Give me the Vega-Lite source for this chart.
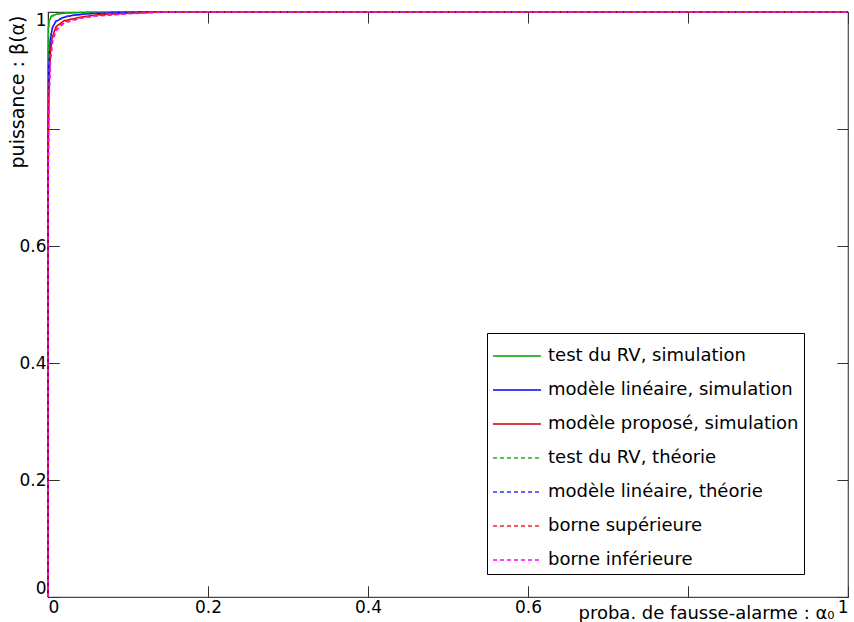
{
  "$schema": "https://vega.github.io/schema/vega-lite/v6.json",
  "width": 800,
  "height": 585,
  "autosize": "none",
  "padding": {"left": 48, "top": 12, "right": 6, "bottom": 25},
  "background": "white",
  "config": {
    "view": {"stroke": "#4a4a4a", "strokeWidth": 1.2},
    "font": "DejaVu Sans",
    "axis": {"domain": false, "ticks": true, "tickSize": -11, "tickColor": "#333333", "grid": true, "gridColor": "#333333", "gridOpacity": 1, "gridWidth": 1, "labelFontSize": 17, "labelColor": "black", "labelFont": "DejaVu Sans", "titleFont": "DejaVu Sans", "titleFontWeight": "normal", "titleColor": "black"}
  },
  "data": {"values": [
    {"a": 0, "b": 0, "s": "test du RV, simulation"},
    {"a": 0, "b": 0.9, "s": "test du RV, simulation"},
    {"a": 0.0005, "b": 0.97, "s": "test du RV, simulation"},
    {"a": 0.0015, "b": 0.985, "s": "test du RV, simulation"},
    {"a": 0.004, "b": 0.992, "s": "test du RV, simulation"},
    {"a": 0.01, "b": 0.996, "s": "test du RV, simulation"},
    {"a": 0.02, "b": 0.998, "s": "test du RV, simulation"},
    {"a": 0.05, "b": 0.9995, "s": "test du RV, simulation"},
    {"a": 0.1, "b": 1, "s": "test du RV, simulation"},
    {"a": 1, "b": 1, "s": "test du RV, simulation"},

    {"a": 0, "b": 0, "s": "modèle linéaire, simulation"},
    {"a": 0, "b": 0.75, "s": "modèle linéaire, simulation"},
    {"a": 0.001, "b": 0.9, "s": "modèle linéaire, simulation"},
    {"a": 0.003, "b": 0.955, "s": "modèle linéaire, simulation"},
    {"a": 0.006, "b": 0.975, "s": "modèle linéaire, simulation"},
    {"a": 0.01, "b": 0.984, "s": "modèle linéaire, simulation"},
    {"a": 0.02, "b": 0.991, "s": "modèle linéaire, simulation"},
    {"a": 0.03, "b": 0.994, "s": "modèle linéaire, simulation"},
    {"a": 0.05, "b": 0.997, "s": "modèle linéaire, simulation"},
    {"a": 0.08, "b": 0.999, "s": "modèle linéaire, simulation"},
    {"a": 0.12, "b": 1, "s": "modèle linéaire, simulation"},
    {"a": 1, "b": 1, "s": "modèle linéaire, simulation"},

    {"a": 0, "b": 0, "s": "modèle proposé, simulation"},
    {"a": 0, "b": 0.7, "s": "modèle proposé, simulation"},
    {"a": 0.001, "b": 0.86, "s": "modèle proposé, simulation"},
    {"a": 0.003, "b": 0.93, "s": "modèle proposé, simulation"},
    {"a": 0.005, "b": 0.955, "s": "modèle proposé, simulation"},
    {"a": 0.01, "b": 0.975, "s": "modèle proposé, simulation"},
    {"a": 0.02, "b": 0.985, "s": "modèle proposé, simulation"},
    {"a": 0.04, "b": 0.991, "s": "modèle proposé, simulation"},
    {"a": 0.06, "b": 0.995, "s": "modèle proposé, simulation"},
    {"a": 0.1, "b": 0.998, "s": "modèle proposé, simulation"},
    {"a": 0.14, "b": 1, "s": "modèle proposé, simulation"},
    {"a": 1, "b": 1, "s": "modèle proposé, simulation"},

    {"a": 0, "b": 0, "s": "test du RV, théorie"},
    {"a": 0, "b": 0.9, "s": "test du RV, théorie"},
    {"a": 0.0005, "b": 0.972, "s": "test du RV, théorie"},
    {"a": 0.0015, "b": 0.986, "s": "test du RV, théorie"},
    {"a": 0.004, "b": 0.993, "s": "test du RV, théorie"},
    {"a": 0.01, "b": 0.9965, "s": "test du RV, théorie"},
    {"a": 0.02, "b": 0.9985, "s": "test du RV, théorie"},
    {"a": 0.05, "b": 0.9996, "s": "test du RV, théorie"},
    {"a": 0.1, "b": 1, "s": "test du RV, théorie"},
    {"a": 1, "b": 1, "s": "test du RV, théorie"},

    {"a": 0, "b": 0, "s": "modèle linéaire, théorie"},
    {"a": 0, "b": 0.76, "s": "modèle linéaire, théorie"},
    {"a": 0.001, "b": 0.905, "s": "modèle linéaire, théorie"},
    {"a": 0.003, "b": 0.957, "s": "modèle linéaire, théorie"},
    {"a": 0.006, "b": 0.976, "s": "modèle linéaire, théorie"},
    {"a": 0.01, "b": 0.985, "s": "modèle linéaire, théorie"},
    {"a": 0.02, "b": 0.9915, "s": "modèle linéaire, théorie"},
    {"a": 0.03, "b": 0.9945, "s": "modèle linéaire, théorie"},
    {"a": 0.05, "b": 0.9972, "s": "modèle linéaire, théorie"},
    {"a": 0.08, "b": 0.9992, "s": "modèle linéaire, théorie"},
    {"a": 0.12, "b": 1, "s": "modèle linéaire, théorie"},
    {"a": 1, "b": 1, "s": "modèle linéaire, théorie"},

    {"a": 0, "b": 0, "s": "borne supérieure"},
    {"a": 0, "b": 0.68, "s": "borne supérieure"},
    {"a": 0.001, "b": 0.85, "s": "borne supérieure"},
    {"a": 0.003, "b": 0.925, "s": "borne supérieure"},
    {"a": 0.005, "b": 0.952, "s": "borne supérieure"},
    {"a": 0.01, "b": 0.972, "s": "borne supérieure"},
    {"a": 0.02, "b": 0.983, "s": "borne supérieure"},
    {"a": 0.04, "b": 0.99, "s": "borne supérieure"},
    {"a": 0.06, "b": 0.994, "s": "borne supérieure"},
    {"a": 0.1, "b": 0.9975, "s": "borne supérieure"},
    {"a": 0.145, "b": 1, "s": "borne supérieure"},
    {"a": 1, "b": 1, "s": "borne supérieure"},

    {"a": 0, "b": 0, "s": "borne inférieure"},
    {"a": 0, "b": 0.65, "s": "borne inférieure"},
    {"a": 0.001, "b": 0.83, "s": "borne inférieure"},
    {"a": 0.003, "b": 0.915, "s": "borne inférieure"},
    {"a": 0.006, "b": 0.95, "s": "borne inférieure"},
    {"a": 0.01, "b": 0.968, "s": "borne inférieure"},
    {"a": 0.02, "b": 0.981, "s": "borne inférieure"},
    {"a": 0.04, "b": 0.989, "s": "borne inférieure"},
    {"a": 0.06, "b": 0.993, "s": "borne inférieure"},
    {"a": 0.1, "b": 0.997, "s": "borne inférieure"},
    {"a": 0.15, "b": 1, "s": "borne inférieure"},
    {"a": 1, "b": 1, "s": "borne inférieure"}
  ]},
  "mark": {"type": "line", "strokeWidth": 1.5, "clip": false},
  "encoding": {
    "x": {"field": "a", "type": "quantitative", "scale": {"domain": [0, 1], "nice": false, "zero": false},
      "axis": {"orient": "bottom", "values": [0, 0.2, 0.4, 0.6, 0.8, 1], "gridDash": [11, 563, 11], "labelFlush": true, "labelPadding": 13, "labelExpr": "datum.value == 0.8 ? '' : format(datum.value, '~g')",
        "title": "proba. de fausse-alarme : α₀", "titleFontSize": 18, "titleAnchor": "end", "titleAlign": "right", "titleX": 786, "titleY": 16, "titleBaseline": "middle"}},
    "y": {"field": "b", "type": "quantitative", "scale": {"domain": [0, 1], "nice": false, "zero": false},
      "axis": {"orient": "left", "values": [0, 0.2, 0.4, 0.6, 0.8, 1], "gridDash": [11, 778, 11], "labelFlush": true, "labelPadding": 13, "labelExpr": "datum.value == 0.8 ? '' : format(datum.value, '~g')",
        "title": "puissance : β(α)", "titleFontSize": 19, "titleAngle": -90, "titleAlign": "right", "titleX": -31, "titleY": 3, "titleBaseline": "middle"}},
    "color": {"field": "s", "type": "nominal",
      "scale": {"domain": ["test du RV, simulation", "modèle linéaire, simulation", "modèle proposé, simulation", "test du RV, théorie", "modèle linéaire, théorie", "borne supérieure", "borne inférieure"],
        "range": ["#00a000", "#0000ff", "#cc0000", "#22b022", "#3333ff", "#ff2020", "#ff00ff"]},
      "legend": {"orient": "none", "legendX": 439, "legendY": 321, "title": null,
        "symbolType": "M-1,0H1.8235", "symbolSize": 1156, "symbolStrokeWidth": 1.3, "symbolFillColor": "transparent",
        "labelFontSize": 18, "labelFont": "DejaVu Sans", "labelColor": "black", "strokeColor": "black", "fillColor": "white",
        "padding": 5, "rowPadding": 7, "labelOffset": 20, "labelLimit": 400, "cornerRadius": 0,
        "encode": {"symbols": {"update": {
          "stroke": {"signal": "scale('color', datum.value)"},
          "strokeDash": {"signal": "indexof(datum.value, 'théorie') >= 0 || indexof(datum.value, 'borne') >= 0 ? [4, 3] : [1, 0]"},
          "fill": {"value": "transparent"},
          "opacity": {"value": 1}
        }}}}},
    "strokeDash": {"field": "s", "type": "nominal",
      "scale": {"domain": ["test du RV, simulation", "modèle linéaire, simulation", "modèle proposé, simulation", "test du RV, théorie", "modèle linéaire, théorie", "borne supérieure", "borne inférieure"],
        "range": [[1, 0], [1, 0], [1, 0], [4, 3], [4, 3], [4, 3], [4, 3]]},
      "legend": null}
  }
}
